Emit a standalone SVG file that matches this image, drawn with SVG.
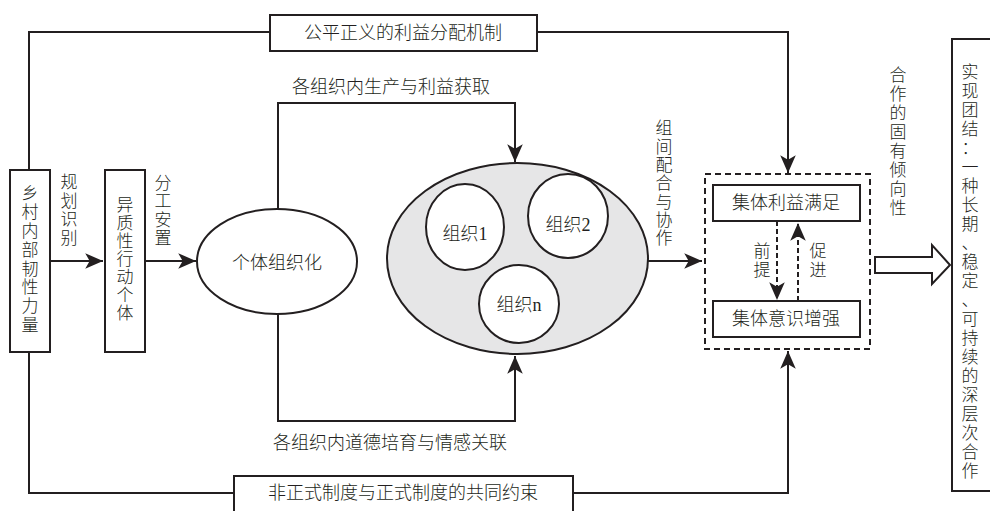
<svg xmlns="http://www.w3.org/2000/svg" width="990" height="511" viewBox="0 0 990 511">
<style>
text{font-family:"Liberation Serif","Noto Sans CJK SC",serif;font-size:18px;fill:#231f20;font-weight:300}
.c{text-anchor:middle;dominant-baseline:central}
.v{font-size:17px}
.box{fill:#fff;stroke:#231f20;stroke-width:2}
.ln{fill:none;stroke:#231f20;stroke-width:2}
.dash{fill:none;stroke:#231f20;stroke-width:2;stroke-dasharray:6 4}
</style>
<defs>
<marker id="ah" markerUnits="userSpaceOnUse" markerWidth="20" markerHeight="20" viewBox="-17 -8 18 16" refX="0" refY="0" orient="auto">
<path d="M0,0 L-16,-7 L-12,0 L-16,7 Z" fill="#231f20"/>
</marker>
</defs>
<g id="connectors">
<polyline class="ln" points="29,170 29,32 270,32"/>
<polyline class="ln" points="537,32 788,32 788,173" marker-end="url(#ah)"/>
<polyline class="ln" points="29,352 29,493 234,493"/>
<polyline class="ln" points="573,493 788,493 788,351" marker-end="url(#ah)"/>
<polyline class="ln" points="278,209 278,103 515,103 515,162" marker-end="url(#ah)"/>
<polyline class="ln" points="278,314 278,421 515,421 515,356" marker-end="url(#ah)"/>
<line class="ln" x1="50" y1="261" x2="103" y2="261" marker-end="url(#ah)"/>
<line class="ln" x1="145" y1="261" x2="196" y2="261" marker-end="url(#ah)"/>
<line class="ln" x1="648" y1="261" x2="702" y2="261" marker-end="url(#ah)"/>
<line class="ln" x1="777" y1="221" x2="777" y2="300" stroke-dasharray="5 3" marker-end="url(#ah)"/>
<line class="ln" x1="798" y1="301" x2="798" y2="223" stroke-dasharray="5 3" marker-end="url(#ah)"/>
<polygon points="875,257 932,257 932,245 950,265 932,284 932,273 875,273" fill="#fff" stroke="#231f20" stroke-width="2"/>
<text class="c v"><tspan x="69" y="182">规</tspan><tspan x="69" y="201">划</tspan><tspan x="69" y="219">识</tspan><tspan x="69" y="238">别</tspan></text>
<text class="c v"><tspan x="163" y="183">分</tspan><tspan x="163" y="201">工</tspan><tspan x="163" y="220">安</tspan><tspan x="163" y="238">置</tspan></text>
<text class="c" x="391" y="87">各组织内生产与利益获取</text>
<text class="c" x="390" y="443">各组织内道德培育与情感关联</text>
<text class="c v"><tspan x="664" y="128">组</tspan><tspan x="664" y="146.5">间</tspan><tspan x="664" y="165">配</tspan><tspan x="664" y="183">合</tspan><tspan x="664" y="201.5">与</tspan><tspan x="664" y="220">协</tspan><tspan x="664" y="238">作</tspan></text>
<text class="c v"><tspan x="762" y="251">前</tspan><tspan x="762" y="270">提</tspan></text>
<text class="c v"><tspan x="818" y="251">促</tspan><tspan x="818" y="270">进</tspan></text>
<text class="c v"><tspan x="898" y="75">合</tspan><tspan x="898" y="94">作</tspan><tspan x="898" y="113">的</tspan><tspan x="898" y="132">固</tspan><tspan x="898" y="151">有</tspan><tspan x="898" y="170">倾</tspan><tspan x="898" y="189">向</tspan><tspan x="898" y="208">性</tspan></text>
</g>
<g id="node-top">
<rect class="box" x="270" y="15" width="267" height="36"/>
<text class="c" x="403" y="33">公平正义的利益分配机制</text>
</g>
<g id="node-bottom">
<rect class="box" x="234" y="476" width="339" height="40"/>
<text class="c" x="403" y="493">非正式制度与正式制度的共同约束</text>
</g>
<g id="node-rural">
<rect class="box" x="10" y="170" width="40" height="182"/>
<text class="c v"><tspan x="30" y="193">乡</tspan><tspan x="30" y="212">村</tspan><tspan x="30" y="231">内</tspan><tspan x="30" y="250">部</tspan><tspan x="30" y="269">韧</tspan><tspan x="30" y="287">性</tspan><tspan x="30" y="306">力</tspan><tspan x="30" y="325">量</tspan></text>
</g>
<g id="node-actors">
<rect class="box" x="105" y="170" width="40" height="182"/>
<text class="c v"><tspan x="125" y="205">异</tspan><tspan x="125" y="223">质</tspan><tspan x="125" y="241">性</tspan><tspan x="125" y="259">行</tspan><tspan x="125" y="277">动</tspan><tspan x="125" y="295">个</tspan><tspan x="125" y="313">体</tspan></text>
</g>
<g id="node-individual">
<ellipse class="box" cx="277" cy="261.5" rx="80" ry="52.5"/>
<text class="c" x="277" y="263">个体组织化</text>
</g>
<g id="node-orgs">
<ellipse cx="517.5" cy="258.5" rx="130.5" ry="95.5" fill="#e6e6e7" stroke="#231f20" stroke-width="2"/>
<g id="node-org1">
<ellipse class="box" cx="465" cy="227" rx="39" ry="43"/>
<text class="c" x="465" y="234">组织1</text>
</g>
<g id="node-org2">
<ellipse class="box" cx="568" cy="216" rx="40" ry="42"/>
<text class="c" x="568" y="225">组织2</text>
</g>
<g id="node-orgn">
<ellipse class="box" cx="519" cy="304" rx="40" ry="39"/>
<text class="c" x="519" y="305">组织n</text>
</g>
</g>
<g id="node-collective">
<rect class="dash" x="705" y="174" width="165" height="175"/>
<g id="node-interest">
<rect class="box" x="713" y="185" width="147" height="36"/>
<text class="c" x="786" y="203">集体利益满足</text>
</g>
<g id="node-consciousness">
<rect class="box" x="713" y="301" width="147" height="36"/>
<text class="c" x="786" y="319">集体意识增强</text>
</g>
</g>
<g id="node-result">
<rect class="box" x="952" y="39" width="60" height="452"/>
<text class="c v"><tspan x="970" y="72">实</tspan><tspan x="970" y="91">现</tspan><tspan x="970" y="110">团</tspan><tspan x="970" y="129">结</tspan><tspan x="970" y="148">：</tspan><tspan x="970" y="167">一</tspan><tspan x="970" y="186">种</tspan><tspan x="970" y="205">长</tspan><tspan x="970" y="224">期</tspan><tspan x="970" y="243">、</tspan><tspan x="970" y="262">稳</tspan><tspan x="970" y="281">定</tspan><tspan x="970" y="300">、</tspan><tspan x="970" y="319">可</tspan><tspan x="970" y="338">持</tspan><tspan x="970" y="357">续</tspan><tspan x="970" y="376">的</tspan><tspan x="970" y="395">深</tspan><tspan x="970" y="414">层</tspan><tspan x="970" y="433">次</tspan><tspan x="970" y="452">合</tspan><tspan x="970" y="471">作</tspan></text>
</g>
</svg>
